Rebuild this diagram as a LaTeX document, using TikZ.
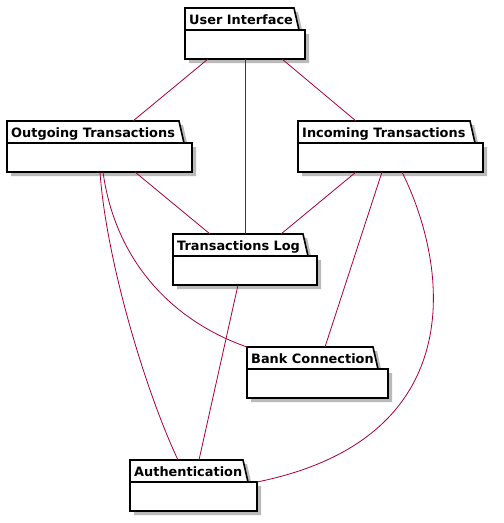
\documentclass[tikz,border=0pt]{standalone}
\usepackage{fontspec}
\setmainfont{DejaVu Sans}
\definecolor{linkcol}{HTML}{A80036}
\begin{document}
\begin{tikzpicture}[x=1pt,y=-1pt]
    \def\tabH{22}
    \def\bodyH{29}

    \tikzset{
        pkgline/.style={draw=black, line width=1.6pt, line join=miter},
        pkgbody/.style={pkgline, fill=white, anchor=north west,
            minimum height=\bodyH, inner sep=0pt, outer sep=0pt},
        pkglabel/.style={anchor=base west, inner sep=0pt,
            font=\bfseries\fontsize{12.9}{15}\selectfont},
        link/.style={draw=linkcol, line width=0.8pt}
    }

    \useasboundingbox (0,0) rectangle (504,523);

    % #1 name, #2 tab width, #3 body width, #4 label
    \newcommand{\pkg}[4]{
        \fill[black!45, opacity=0.6] (4,4) -- (#2+4,4) -- (#2+9,\tabH+4) -- (#3+4,\tabH+4)
            -- (#3+4,\tabH+\bodyH+4) -- (4,\tabH+\bodyH+4) -- cycle;
        \filldraw[pkgline, fill=white]
            (0,\tabH) -- (0,0) -- (#2,0) -- (#2+5,\tabH);
        \node[pkgbody, minimum width=#3] (#1) at (0,\tabH) {};
        \node[pkglabel] (#1-label) at (4,16) {#4};
        \coordinate (#1-top) at (0,0);
    }

    % Packages
    \foreach \nm/\px/\py/\tw/\bw/\txt in {ui/185/8/109/120/User Interface,
            out/7/121/172/185/Outgoing Transactions,
            inc/298/121/172/185/Incoming Transactions,
            tl/173/234/130/144/Transactions Log,
            bank/247/347/126/141/Bank Connection,
            auth/130/460/113/127/Authentication} {
        \begin{scope}[shift={(\px,\py)}]
            \pkg{\nm}{\tw}{\bw}{\txt}
        \end{scope}
    }

    % Dependencies
    \draw[link] ([xshift=23]ui.south west) -- ([xshift=126]out-top);
    \draw[link] (ui.south) -- ([xshift=72]tl-top);
    \draw[link] ([xshift=97]ui.south west) -- ([xshift=58]inc-top);
    \draw[link] ([xshift=128]out.south west) -- ([xshift=37]tl-top);
    \draw[link] ([xshift=58]inc.south west) -- ([xshift=108]tl-top);
    \draw[link] ([xshift=93]out.south west) .. controls +(6,87) and +(-33,-70) .. ([xshift=48]auth-top);
    \draw[link] ([xshift=96]out.south west) .. controls +(12,87) and +(-77,-27) .. (bank-top);
    \draw[link] ([xshift=65]tl.south west) -- ([xshift=69]auth-top);
    \draw[link] ([xshift=84]inc.south west) -- ([xshift=78]bank-top);
    \draw[link] ([xshift=104]inc.south west) .. controls +(48,97) and +(213,-43) .. (auth.north east);
\end{tikzpicture}
\end{document}
